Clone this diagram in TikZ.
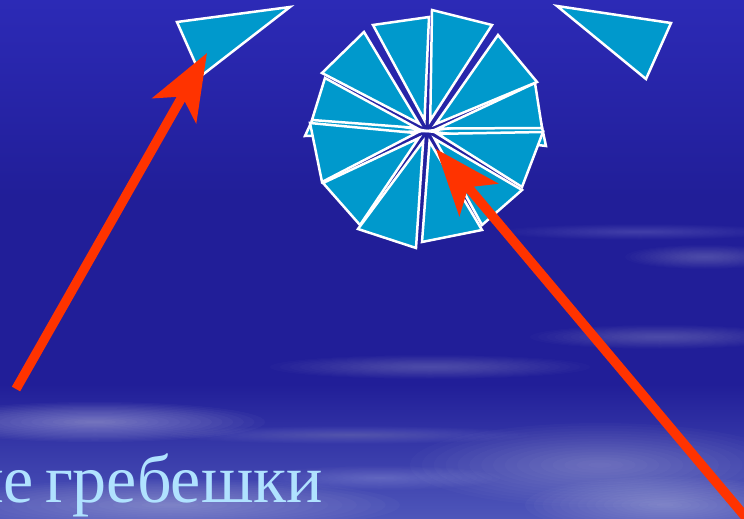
\documentclass[tikz,border=0pt]{standalone}
\usepackage{fontspec}
\setmainfont{Liberation Serif}
\newfontfamily\captionfont[WordSpace=0.65]{Liberation Serif}
\usetikzlibrary{arrows.meta,calc}

\definecolor{skytop}{RGB}{44,42,182}
\definecolor{skymid}{RGB}{33,30,152}
\definecolor{skybot}{RGB}{78,86,186}
\definecolor{shellblue}{RGB}{0,153,204}
\definecolor{pointerred}{RGB}{255,51,0}
\definecolor{captionblue}{RGB}{176,226,255}

\pgfdeclareverticalshading{sky}{100bp}{color(0bp)=(skybot); color(25bp)=(skybot);
  color(38bp)=(skymid); color(56bp)=(skymid); color(75bp)=(skytop); color(100bp)=(skytop)}

\tikzset{
  shell/.style={fill=shellblue, draw=white, line width=2.5pt, line join=miter},
  pointer/.style={draw=pointerred, line width=9.5pt,
    -{Stealth[length=66pt, width=50pt, inset=16pt]}},
}

% soft streak of cloud: x, y, half width, half height, opacity per layer
\newcommand\softcloud[5]{%
  \foreach \k in {1,...,16}
    \fill[white, opacity=#5] (#1,#2) ellipse ({#3*\k/16} and {#4*\k/16});}

\begin{document}
\begin{tikzpicture}[x=1pt, y=-1pt]
  \useasboundingbox (0,0) rectangle (744,519);
  \clip (0,0) rectangle (744,519);
  % sky
  \shade[shading=sky] (0,0) rectangle (744,519);
  \softcloud{640}{232}{140}{8}{0.01}
  \softcloud{705}{257}{80}{12}{0.016}
  \softcloud{660}{337}{130}{12}{0.014}
  \softcloud{430}{367}{160}{12}{0.016}
  \softcloud{95}{422}{170}{20}{0.026}
  \softcloud{350}{435}{180}{9}{0.01}
  \softcloud{600}{465}{190}{42}{0.018}
  \softcloud{665}{505}{140}{28}{0.022}
  \softcloud{170}{505}{230}{26}{0.022}
  \softcloud{380}{478}{120}{12}{0.014}

  % single shells
  \draw[shell] (177,22) -- (290,7) -- (201,76) -- cycle;
  \draw[shell] (557,6) -- (671,23) -- (646,79) -- cycle;

  % fan of shells round the hub
  \coordinate (hub) at (427,131);
  \draw[shell] (hub) -- (305,136) -- (316,112) -- cycle;
  \draw[shell] (hub) -- (546,146) -- (540,118) -- cycle;
  \foreach \ax/\ay/\bx/\by in {432/10/492/25, 373/25/429/17, 364/32/322/73,
      325/78/312/120, 310/123/322/182, 323/183/360/225, 358/229/416/248,
      422/242/482/230, 482/225/522/190, 522/187/543/132, 542/128/535/83,
      537/82/498/35} {
    \coordinate (p) at (\ax,\ay);
    \coordinate (q) at (\bx,\by);
    \coordinate (m) at ($(p)!.5!(q)$);
    \coordinate (apex) at ($(hub)!11pt!(m)$);
    \draw[shell] (p) -- (q) -- (apex) -- cycle;
  }

  % caption
  \node[anchor=base east, inner sep=0pt, text=captionblue,
    font=\captionfont\fontsize{68}{80}\selectfont]
    (caption) at (323,502) {ые гребешки};

  % pointers
  \coordinate (tailL) at (16,389);
  \coordinate (tipL) at (207,53);
  \coordinate (tailR) at (748,520);
  \coordinate (tipR) at (436,149);
  \draw[pointer] (tailL) -- (tipL);
  \draw[pointer] (tailR) -- (tipR);
\end{tikzpicture}
\end{document}
